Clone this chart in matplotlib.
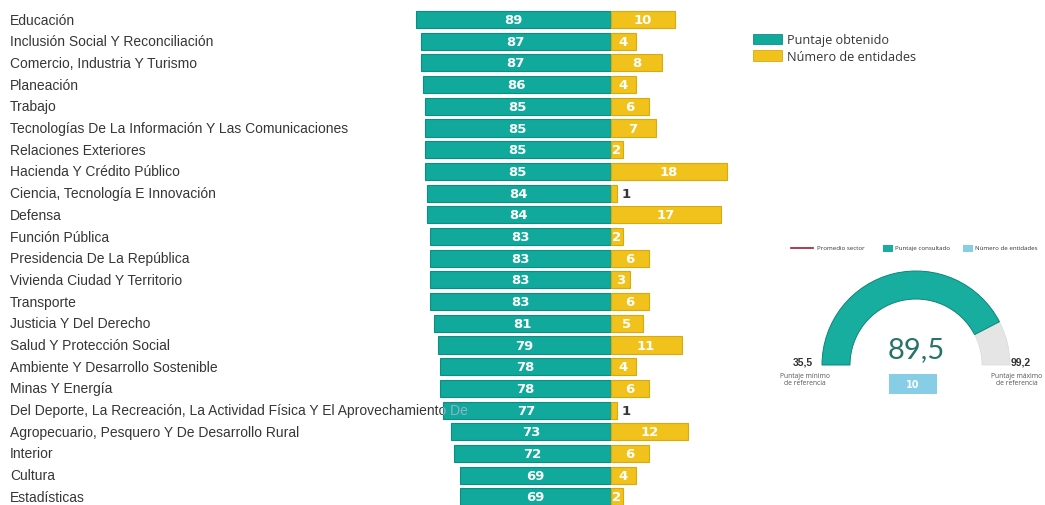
import matplotlib
matplotlib.use("Agg")
import matplotlib.pyplot as plt
import matplotlib.transforms as mtransforms
from matplotlib.patches import Wedge, Rectangle, Patch
from matplotlib.lines import Line2D

# ---------------- data ----------------
categories = [
    "Educación",
    "Inclusión Social Y Reconciliación",
    "Comercio, Industria Y Turismo",
    "Planeación",
    "Trabajo",
    "Tecnologías De La Información Y Las Comunicaciones",
    "Relaciones Exteriores",
    "Hacienda Y Crédito Público",
    "Ciencia, Tecnología E Innovación",
    "Defensa",
    "Función Pública",
    "Presidencia De La República",
    "Vivienda Ciudad Y Territorio",
    "Transporte",
    "Justicia Y Del Derecho",
    "Salud Y Protección Social",
    "Ambiente Y Desarrollo Sostenible",
    "Minas Y Energía",
    "Del Deporte, La Recreación, La Actividad Física Y El Aprovechamiento De",
    "Agropecuario, Pesquero Y De Desarrollo Rural",
    "Interior",
    "Cultura",
    "Estadísticas",
]
puntaje = [89, 87, 87, 86, 85, 85, 85, 85, 84, 84, 83, 83, 83, 83, 81, 79, 78, 78, 77, 73, 72, 69, 69]
entidades = [10, 4, 8, 4, 6, 7, 2, 18, 1, 17, 2, 6, 3, 6, 5, 11, 4, 6, 1, 12, 6, 4, 2]

legend_labels = ["Puntaje obtenido", "Número de entidades"]

gauge_score = 89.5
gauge_min = 35.5
gauge_max = 99.2
gauge_count = 10
gauge_legend = ["Promedio sector", "Puntaje consultado", "Número de entidades"]
gauge_min_label = "Puntaje mínimo\nde referencia"
gauge_max_label = "Puntaje máximo\nde referencia"

# ---------------- style ----------------
TEAL = "#10A99B"
TEAL_EDGE = "#0D8E82"
YELLOW = "#F1C21B"
YELLOW_EDGE = "#D9AA10"
TXT = "#363636"
GAUGE_TEAL = "#17AE9F"
GAUGE_GRAY = "#E5E5E5"
BOX_BLUE = "#88CDE6"

W, H = 1045, 506
fig = plt.figure(figsize=(W / 100, H / 100), dpi=100)
fig.patch.set_facecolor("white")

def fx(px):
    return px / W

def fy(py):
    return 1 - py / H

# y mapping: row i centre at pixel 20.5 + 21.7*i
row0, step = 20.5, 21.7
y_top = -row0 / step
y_bot = (H - row0) / step
bar_h = 0.79
n = len(categories)
ys = list(range(n))

CENTER = 610.5
LPX = 2.18   # pixels per score unit
RPX = 6.48   # pixels per entity

axL = fig.add_axes([fx(400), 0, fx(CENTER - 400), 1])
axL.set_xlim((CENTER - 400) / LPX, 0)
axL.set_ylim(y_bot, y_top)
axL.axis("off")
axL.patch.set_visible(False)

axR = fig.add_axes([fx(CENTER), 0, fx(760 - CENTER), 1], sharey=axL)
axR.set_xlim(0, (760 - CENTER) / RPX)
axR.axis("off")
axR.patch.set_visible(False)

barsL = axL.barh(ys, puntaje, height=bar_h, color=TEAL, edgecolor=TEAL_EDGE,
                 linewidth=0.8, zorder=2)
barsR = axR.barh(ys, entidades, height=bar_h, color=YELLOW, edgecolor=YELLOW_EDGE,
                 linewidth=0.8, zorder=2)

label_font = "Liberation Sans"
label_size = 10
lab_tr = mtransforms.blended_transform_factory(fig.transFigure, axL.transData)
for i, (cat, bar) in enumerate(zip(categories, barsL)):
    axL.text(fx(10), i, cat, transform=lab_tr, ha="left", va="center",
             fontsize=label_size, color=TXT, family=label_font, clip_on=False, zorder=1)
    # faint overlay where the label runs under the bar
    t = axL.text(fx(10), i, cat, transform=lab_tr, ha="left", va="center",
                 fontsize=label_size, color="#8FB3C4", family=label_font, zorder=3,
                 clip_on=True)
    t.set_clip_box(mtransforms.TransformedBbox(bar.get_bbox(), axL.transData))

VAL_FONT = dict(fontsize=9.5, fontweight="bold", family="DejaVu Sans")
for i, v in enumerate(puntaje):
    axL.text(v / 2, i, str(v), ha="center", va="center", color="white",
             zorder=4, **VAL_FONT)

for i, v in enumerate(entidades):
    if v <= 1:
        axR.text(v + 0.7, i, str(v), ha="left", va="center", color=TXT,
                 zorder=4, **VAL_FONT)
    else:
        axR.text(v / 2, i, str(v), ha="center", va="center", color="white",
                 zorder=4, **VAL_FONT)

# ---------------- main legend ----------------
handles = [Patch(facecolor=TEAL, edgecolor=TEAL_EDGE, linewidth=0.6),
           Patch(facecolor=YELLOW, edgecolor=YELLOW_EDGE, linewidth=0.6)]
fig.legend(handles, legend_labels, loc="upper left",
           bbox_to_anchor=(fx(752), fy(33)), frameon=False,
           prop={"family": "Open Sans", "size": 9.1},
           handlelength=2.3, handleheight=0.9, handletextpad=0.4,
           labelspacing=0.3, borderpad=0.1, borderaxespad=0, labelcolor=TXT)

# ---------------- gauge ----------------
gx0, gx1, gyt, gyb = 770, 1045, 235, 405
gax = fig.add_axes([fx(gx0), fy(gyb), fx(gx1 - gx0), (gyb - gyt) / H])
gax.set_xlim(gx0, gx1)
gax.set_ylim(H - gyb, H - gyt)
gax.axis("off")

cx, cy = 916, H - 366
R_out, ring = 94, 28
frac = (gauge_score - gauge_min) / (gauge_max - gauge_min)
split = 180 - 180 * frac
gax.add_patch(Wedge((cx, cy), R_out, 0, split, width=ring, facecolor=GAUGE_GRAY,
                    edgecolor="#DADADA", linewidth=0.5))
gax.add_patch(Wedge((cx, cy), R_out, split, 180, width=ring, facecolor=GAUGE_TEAL,
                    edgecolor="#0E8478", linewidth=0.7))

gax.text(cx, H - 350, f"{gauge_score:.1f}".replace(".", ","), ha="center",
         va="center", fontsize=21, color="#257468", family="Lato")

gax.add_patch(Rectangle((889, H - 395), 48, 20, facecolor=BOX_BLUE, edgecolor="none"))
gax.text(913, H - 385, str(gauge_count), ha="center", va="center", color="white",
         fontsize=7, fontweight="bold", family="DejaVu Sans")

gax.text(813, H - 363, f"{gauge_min:.1f}".replace(".", ","),
         ha="right", va="center", fontsize=7.5, fontweight="bold", color="#333333",
         family="Liberation Sans")
gax.text(1011, H - 363, f"{gauge_max:.1f}".replace(".", ","),
         ha="left", va="center", fontsize=7.5, fontweight="bold", color="#333333",
         family="Liberation Sans")
gax.text(805, H - 380, gauge_min_label, ha="center", va="center", fontsize=4.9,
         color="#555555", family="Open Sans", linespacing=1.15)
gax.text(1017, H - 380, gauge_max_label, ha="center", va="center", fontsize=4.9,
         color="#555555", family="Open Sans", linespacing=1.15)

# gauge legend
ly = H - 249
gax.add_line(Line2D([791, 813], [ly, ly], color="#A31A2E", linewidth=1.2))
gax.text(817, ly, gauge_legend[0], ha="left", va="center", fontsize=4.4,
         color="#333333", family="Open Sans")
gax.add_patch(Rectangle((883, ly - 3.5), 10, 7, facecolor=GAUGE_TEAL, edgecolor="none"))
gax.text(895, ly, gauge_legend[1], ha="left", va="center", fontsize=4.4,
         color="#333333", family="Open Sans")
gax.add_patch(Rectangle((963, ly - 3.5), 10, 7, facecolor=BOX_BLUE, edgecolor="none"))
gax.text(975, ly, gauge_legend[2], ha="left", va="center", fontsize=4.4,
         color="#333333", family="Open Sans")

fig.savefig("out.png", dpi=100, facecolor="white")
